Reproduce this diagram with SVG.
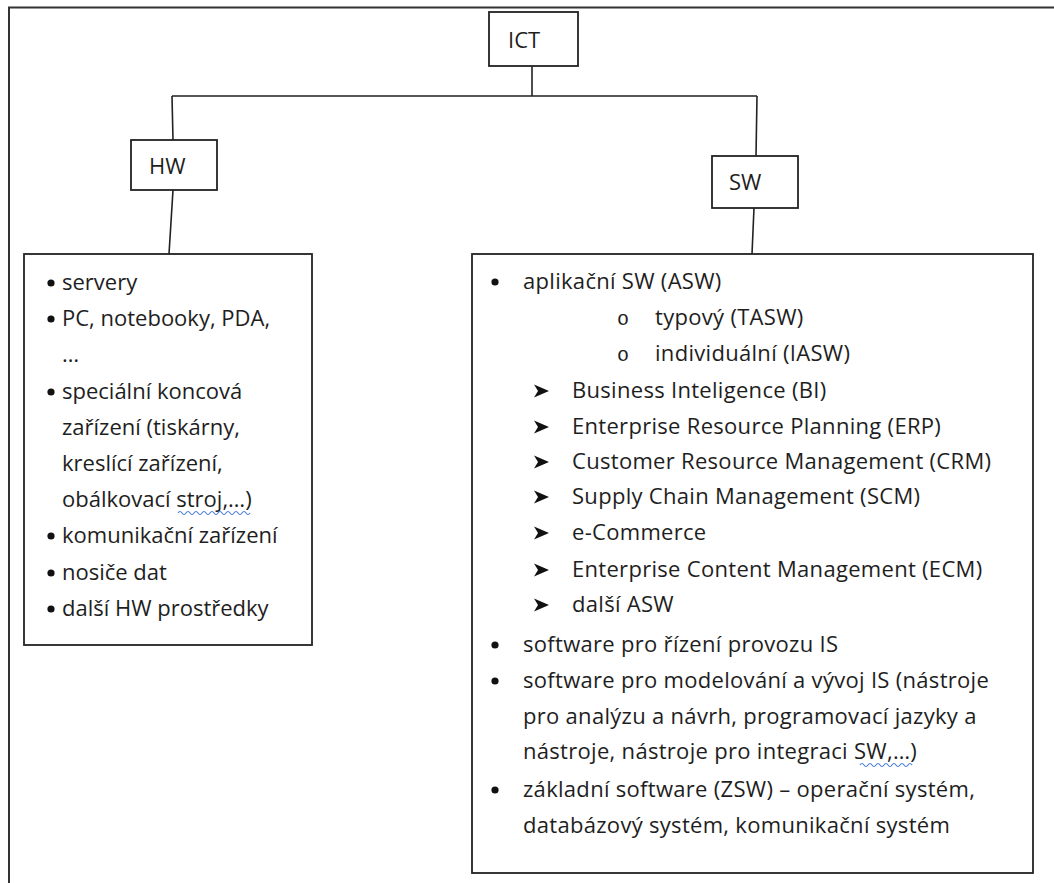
<svg xmlns="http://www.w3.org/2000/svg" width="1054" height="883" viewBox="0 0 1054 883">
<style>
  .box{fill:#fff;stroke:#222;stroke-width:1.8}
  .ln{fill:none;stroke:#222;stroke-width:1.6}
  .t{font-family:"Open Sans","Liberation Sans",sans-serif;font-size:22px;fill:#1e1e1e}
  .ls{letter-spacing:0.3px}
  .o{font-family:"Liberation Mono",monospace;font-size:20px;fill:#1e1e1e}
  .sq{fill:none;stroke:#4a7fd8;stroke-width:1.2}
</style>
<defs>
  <circle id="dot" r="3.6" fill="#111"/>
  <polygon id="arr" points="-7,-6.5 8,0 -7,6.5 -3,0" fill="#111"/>
</defs>
<rect width="1054" height="883" fill="#fff"/>
<rect id="frame" x="9" y="7.5" width="1100" height="900" fill="none" stroke="#333" stroke-width="2"/>

<g id="connectors">
  <path class="ln" d="M532,66 V96 M172,96 H757 M172,96 L173,140 M757,96 L756,156 M173,190 L169,254 M754,208 L752,254"/>
</g>

<g id="ict">
  <rect class="box" x="489" y="12" width="89" height="54"/>
  <text class="t" x="508" y="48">ICT</text>
</g>
<g id="hw">
  <rect class="box" x="131" y="140" width="86" height="50"/>
  <text class="t" x="149" y="174">HW</text>
</g>
<g id="sw">
  <rect class="box" x="712" y="156" width="86" height="52"/>
  <text class="t" x="729" y="190">SW</text>
</g>

<g id="hw-list">
  <rect class="box" x="24" y="254" width="288" height="391"/>
  <use href="#dot" x="51" y="283"/>
  <text class="t" x="62" y="290">servery</text>
  <use href="#dot" x="51" y="319"/>
  <text class="t" x="62" y="326">PC, notebooky, PDA,</text>
  <text class="t" x="62" y="362">…</text>
  <use href="#dot" x="51" y="392"/>
  <text class="t" x="62" y="399">speciální koncová</text>
  <text class="t" x="62" y="435">zařízení (tiskárny,</text>
  <text class="t" x="62" y="471">kreslící zařízení,</text>
  <text class="t" x="62" y="507">obálkovací stroj,…)</text>
  <path class="sq" d="M178,513 q2,-3 4,0 t4,0 t4,0 t4,0 t4,0 t4,0 t4,0 t4,0 t4,0 t4,0 t4,0 t4,0 t4,0 t4,0 t4,0 t4,0 t4,0 t4,0"/>
  <use href="#dot" x="51" y="536"/>
  <text class="t" x="62" y="543">komunikační zařízení</text>
  <use href="#dot" x="51" y="573"/>
  <text class="t" x="62" y="580">nosiče dat</text>
  <use href="#dot" x="51" y="609"/>
  <text class="t" x="62" y="616">další HW prostředky</text>
</g>

<g id="sw-list">
  <rect class="box" x="472" y="254" width="561" height="619"/>
  <use href="#dot" x="495" y="282"/>
  <text class="t ls" x="523" y="289">aplikační SW (ASW)</text>
  <text class="o" x="617" y="325">o</text>
  <text class="t ls" x="655" y="325">typový (TASW)</text>
  <text class="o" x="617" y="361">o</text>
  <text class="t ls" x="655" y="361">individuální (IASW)</text>
  <use href="#arr" x="541" y="391"/>
  <text class="t ls" x="572" y="398">Business Inteligence (BI)</text>
  <use href="#arr" x="541" y="427"/>
  <text class="t ls" x="572" y="434">Enterprise Resource Planning (ERP)</text>
  <use href="#arr" x="541" y="462"/>
  <text class="t ls" x="572" y="469">Customer Resource Management (CRM)</text>
  <use href="#arr" x="541" y="497"/>
  <text class="t ls" x="572" y="504">Supply Chain Management (SCM)</text>
  <use href="#arr" x="541" y="533"/>
  <text class="t ls" x="572" y="540">e-Commerce</text>
  <use href="#arr" x="541" y="570"/>
  <text class="t ls" x="572" y="577">Enterprise Content Management (ECM)</text>
  <use href="#arr" x="541" y="605"/>
  <text class="t ls" x="572" y="612">další ASW</text>
  <use href="#dot" x="495" y="645"/>
  <text class="t ls" x="523" y="652">software pro řízení provozu IS</text>
  <use href="#dot" x="495" y="681"/>
  <text class="t ls" x="523" y="688">software pro modelování a vývoj IS (nástroje</text>
  <text class="t ls" x="523" y="724">pro analýzu a návrh, programovací jazyky a</text>
  <text class="t ls" x="523" y="759">nástroje, nástroje pro integraci SW,…)</text>
  <path class="sq" d="M860,765 q2,-3 4,0 t4,0 t4,0 t4,0 t4,0 t4,0 t4,0 t4,0 t4,0 t4,0 t4,0 t4,0 t4,0"/>
  <use href="#dot" x="495" y="790"/>
  <text class="t ls" x="523" y="797">základní software (ZSW) – operační systém,</text>
  <text class="t ls" x="523" y="833">databázový systém, komunikační systém</text>
</g>
</svg>
